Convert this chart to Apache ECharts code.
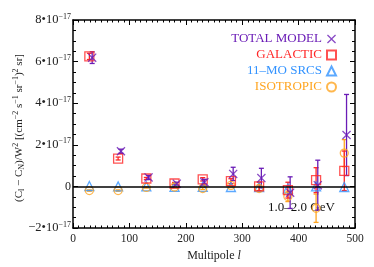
<!DOCTYPE html>
<html><head><meta charset="utf-8">
<script src="https://cdn.jsdelivr.net/npm/echarts@6/dist/echarts.min.js"></script>
<style>html,body{margin:0;padding:0;background:#fff}#c{width:374px;height:267px}</style>
</head><body><div id="c"></div>
<script>
// values in units of 1e-17 (cm^-2 s^-1 sr^-1)^2 sr
const lModel = [29, 80, 130, 180, 230, 280, 330, 381, 431, 481];
const lTotal = [34, 85, 134, 184, 233, 284, 334, 385, 434, 485];
const totalVals = [6.19, 1.69, 0.43, 0.13, 0.2, 0.6, 0.4, -0.3, 0.06, 2.47];
const totalErr = [0.28, 0.1, 0.1, 0.07, 0.14, 0.32, 0.47, 0.76, 1.2, 1.95];
const galacticVals = [6.25, 1.34, 0.38, 0.14, 0.34, 0.25, 0.0, -0.18, 0.3, 0.75];
const galacticErr = [0.15, 0.07, 0.05, 0.05, 0.08, 0.12, 0.2, 0.38, 0.6, 0.95];
const sourcesVals = [0.02, 0.0, 0.0, -0.02, -0.02, -0.03, -0.03, -0.1, 0.0, -0.03];
const isoVals = [-0.2, -0.2, -0.05, -0.03, -0.1, 0.05, -0.1, -0.48, -1.05, 1.6];
const isoErr = [0.03, 0.03, 0.03, 0.04, 0.05, 0.08, 0.12, 0.25, 0.68, 0.65];
const yTicks = [-2, 0, 2, 4, 6, 8];
const xTicks = [0, 100, 200, 300, 400, 500];

const C_TOT = '#6a1cb6', C_GAL = '#ff2626', C_SRC = '#3393ff', C_ISO = '#ffa520';
const SERIF = 'Liberation Serif';
const X_PATH = 'path://M1,0 L5,4 L9,0 L10,1 L6,5 L10,9 L9,10 L5,6 L1,10 L0,9 L4,5 L0,1 Z';

function errData(ls, vals, errs) { return vals.map((v, i) => [ls[i], v - errs[i], v + errs[i]]); }
function errSeries(ls, vals, errs, color) {
  return {
    type: 'custom', silent: true, z: 2,
    data: errData(ls, vals, errs),
    renderItem: function (params, api) {
      const x = api.value(0), lo = api.value(1), hi = api.value(2);
      const a = api.coord([x, lo]), b = api.coord([x, hi]);
      const cw = 2.5, st = { stroke: color, lineWidth: 1.3 };
      return { type: 'group', children: [
        { type: 'line', shape: { x1: a[0], y1: a[1], x2: b[0], y2: b[1] }, style: st },
        { type: 'line', shape: { x1: a[0] - cw, y1: a[1], x2: a[0] + cw, y2: a[1] }, style: st },
        { type: 'line', shape: { x1: b[0] - cw, y1: b[1], x2: b[0] + cw, y2: b[1] }, style: st }
      ]};
    }
  };
}
function pts(ls, vals) { return vals.map((v, i) => [ls[i], v]); }

const chart = echarts.init(document.getElementById('c'), null, { renderer: 'canvas' });
const yFmt = v => {
  if (Math.abs(v) < 1e-9) return '0';
  return '{m|' + (v < 0 ? '\u2212' : '') + Math.abs(v) + '\u202210}{e|\u221217}';
};
const axisCommon = {
  axisLine: { show: true, onZero: false, lineStyle: { color: '#000', width: 1.5 } },
  axisTick: { show: true, inside: true, length: 5, lineStyle: { color: '#000', width: 1 } },
  splitLine: { show: false }
};
chart.setOption({
  animation: false,
  backgroundColor: '#fff',
  grid: { left: 73, right: 19, top: 20, bottom: 39 },
  xAxis: [
    Object.assign({}, axisCommon, {
      type: 'value', min: 0, max: 500, interval: 100, position: 'bottom',
      minorTick: { show: true, splitNumber: 10, length: 2.5, lineStyle: { color: '#000', width: 1 } },
      axisLabel: { fontFamily: SERIF, fontSize: 11.5, color: '#222', margin: 5 },
      name: '{a|Multipole }{i|l}', nameLocation: 'middle', nameGap: 17,
      nameTextStyle: { rich: { a: { fontFamily: SERIF, fontSize: 12, color: '#222' }, i: { fontFamily: SERIF, fontSize: 12, fontStyle: 'italic', color: '#222' } } }
    }),
    Object.assign({}, axisCommon, {
      type: 'value', min: 0, max: 500, interval: 100, position: 'top',
      minorTick: { show: true, splitNumber: 10, length: 2.5, lineStyle: { color: '#000', width: 1 } },
      axisLabel: { show: false }
    })
  ],
  yAxis: [
    Object.assign({}, axisCommon, {
      type: 'value', min: yTicks[0], max: yTicks[yTicks.length - 1], interval: 2, position: 'left',
      minorTick: { show: true, splitNumber: 4, length: 3, lineStyle: { color: '#000', width: 1 } },
      axisLabel: { margin: 2, formatter: yFmt, color: '#222', fontFamily: SERIF, fontSize: 12,
        rich: { m: { fontFamily: SERIF, fontSize: 12.5, color: '#222' }, e: { fontFamily: SERIF, fontSize: 8, color: '#222', padding: [0, 0, 7, 0] } } }
    }),
    Object.assign({}, axisCommon, {
      type: 'value', min: yTicks[0], max: yTicks[yTicks.length - 1], interval: 2, position: 'right',
      minorTick: { show: true, splitNumber: 4, length: 3, lineStyle: { color: '#000', width: 1 } },
      axisLabel: { show: false }
    })
  ],
  legend: {
    orient: 'vertical', right: 37, top: 31, align: 'right', padding: 0, itemGap: 0,
    itemWidth: 9, itemHeight: 9, selectedMode: false,
    textStyle: { fontFamily: SERIF, fontSize: 13, lineHeight: 16 },
    data: [
      { name: 'TOTAL MODEL', textStyle: { color: C_TOT } },
      { name: 'GALACTIC', textStyle: { color: C_GAL } },
      { name: '11\u2013MO SRCS', textStyle: { color: C_SRC } },
      { name: 'ISOTROPIC', textStyle: { color: C_ISO } }
    ]
  },
  graphic: [
    { type: 'text', x: 19, y: 128, rotation: Math.PI / 2, silent: true,
      style: {
        text: '{m|(C}{s|l}{m| \u2212 C}{s|N}{m|)/W}{p|2}{m| [(cm}{p|\u22122}{m| s}{p|\u22121}{m| sr}{p|\u22121}{m|)}{p|2}{m| sr]}',
        align: 'center', verticalAlign: 'middle',
        rich: {
          m: { fontFamily: SERIF, fontSize: 11, fill: '#222' },
          s: { fontFamily: SERIF, fontSize: 8, fill: '#222', padding: [6, 0, 0, 0] },
          p: { fontFamily: SERIF, fontSize: 8, fill: '#222', padding: [0, 0, 6, 0] }
        }
      } },
    { type: 'text', x: 268, y: 208, silent: true,
      style: { text: '1.0\u20132.0 GeV', fontFamily: SERIF, fontSize: 13, fill: '#111', verticalAlign: 'middle' } }
  ],
  series: [
    {
      name: '11\u2013MO SRCS', type: 'scatter', z: 3, symbol: 'triangle', symbolSize: 9,
      itemStyle: { color: 'rgba(0,0,0,0)', borderColor: C_SRC, borderWidth: 1.3 },
      data: pts(lModel, sourcesVals),
      markLine: { silent: true, symbol: 'none', label: { show: false }, lineStyle: { color: '#000', width: 1.5, type: 'solid' }, data: [{ yAxis: 0 }] }
    },
    errSeries(lModel, isoVals, isoErr, C_ISO),
    {
      name: 'ISOTROPIC', type: 'scatter', z: 3, symbol: 'circle', symbolSize: 8,
      itemStyle: { color: 'rgba(0,0,0,0)', borderColor: C_ISO, borderWidth: 1.3 },
      data: pts(lModel, isoVals)
    },
    errSeries(lModel, galacticVals, galacticErr, C_GAL),
    {
      name: 'GALACTIC', type: 'scatter', z: 3, symbol: 'rect', symbolSize: 9,
      itemStyle: { color: 'rgba(0,0,0,0)', borderColor: C_GAL, borderWidth: 1.3 },
      data: pts(lModel, galacticVals)
    },
    errSeries(lTotal, totalVals, totalErr, C_TOT),
    {
      name: 'TOTAL MODEL', type: 'scatter', z: 4, symbol: X_PATH, symbolSize: 9,
      itemStyle: { color: C_TOT },
      data: pts(lTotal, totalVals)
    }
  ]
});
</script></body></html>
